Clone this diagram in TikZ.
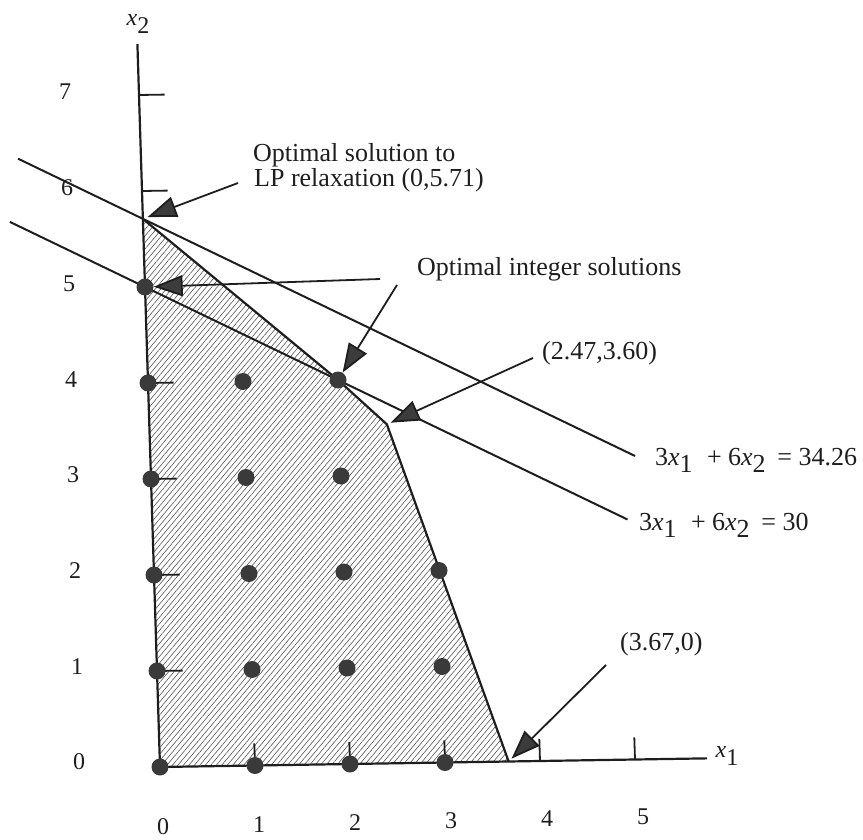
\documentclass[tikz,border=0pt]{standalone}
\usepackage{fontspec}
\setmainfont{Liberation Serif}
\usetikzlibrary{arrows.meta,patterns.meta}
\newcommand\sbx[1]{\raisebox{-0.3em}{#1}}
\newcommand\vx{\textit{x}}
\definecolor{ink}{HTML}{1E1E1E}
\definecolor{dotc}{HTML}{3A3A3A}
\definecolor{headc}{HTML}{3C3C3C}
\definecolor{hatchc}{HTML}{555555}
\begin{document}
\begin{tikzpicture}[x=1pt,y=-1pt,
  ann/.style={font=\fontsize{26}{26}\selectfont, text=ink, inner sep=0pt},
  axnum/.style={font=\fontsize{24}{24}\selectfont, text=ink, inner sep=0pt},
  lattice/.style={circle, fill=dotc, inner sep=0pt, minimum size=17pt},
  pointer/.style={draw=ink, line width=1.8pt, -{Triangle[length=29pt,width=21pt,fill=headc]}},
  axisline/.style={draw=ink, line width=2.2pt},
  tickmark/.style={draw=ink, line width=1.8pt},
  objline/.style={draw=ink, line width=2pt},
  bound/.style={draw=ink, line width=2.2pt, line join=round},
]
\useasboundingbox (0,0) rectangle (863,840);

\begin{scope}[shift={(160,767)}, x={(95pt,1.5pt)}, y={(-3pt,96pt)}]
  \coordinate (O) at (0,0);
  \coordinate (vtop) at (0,5.71);
  \coordinate (vmid) at (2,4);
  \coordinate (vlp) at (2.5,3.53);
  \coordinate (vbot) at (3.67,0);
  \coordinate (yend) at (0,7.53);
  \coordinate (xend) at (5.76,0);
  \coordinate (oAl) at (-1.294,6.357);
  \coordinate (oAr) at (5.1,3.16);
  \coordinate (oBl) at (-1.4,5.7);
  \coordinate (oBr) at (5.0,2.5);
  \fill[pattern={Lines[angle=50,distance=4.2pt,line width=0.6pt]}, pattern color=hatchc]
    (O) -- (vtop) -- (vmid) -- (vlp) -- (vbot) -- cycle;
  \draw[axisline] (O) -- (yend);
  \draw[axisline] (O) -- (xend);
  \draw[objline] (oAl) -- (oAr);
  \draw[objline] (oBl) -- (oBr);
  \draw[bound] (vtop) -- (vmid) -- (vlp) -- (vbot);
  \foreach \k in {1,2,3,4,6,7} \draw[tickmark] (0,\k) -- ++(0.27,0);
  \foreach \k in {1,...,5} \draw[tickmark] (\k,0) -- ++(0,0.23);
  \foreach \i/\j in {0/0,1/0,2/0,3/0,0/1,1/1,2/1,3/1,0/2,1/2,2/2,3/2,0/3,1/3,2/3,0/4,1/4,2/4,0/5}
    \node[lattice] (d\i\j) at (\i,\j) {};
\end{scope}

\foreach \k in {0,...,7} \node[axnum] (ylab\k) at ({79-2*\k},{762-95.7*\k}) {\k};
\foreach \k in {0,...,5} \node[axnum] (xlab\k) at ({163+96*\k},{827-2*\k}) {\k};
\node[axnum] (xtwo) at (138,24) {\vx\sbx{2}};
\node[axnum] (xone) at (727,756) {\vx\sbx{1}};

\node[ann, anchor=base west] (optA) at (253,162) {Optimal solution to};
\node[ann, anchor=base west] (optB) at (254,187) {LP relaxation (0,5.71)};
\node[ann, anchor=base west] (intT) at (417,276) {Optimal integer solutions};
\node[ann, anchor=base west] (lpT) at (542,359) {(2.47,3.60)};
\node[ann, anchor=base west] (botT) at (620,650) {(3.67,0)};
\node[ann, anchor=base west] (objA) at (655,465) {3\vx\sbx{1}\hspace{0.55em}+ 6\vx\sbx{2}\hspace{0.45em}= 34.26};
\node[ann, anchor=base west] (objB) at (639,530) {3\vx\sbx{1}\hspace{0.55em}+ 6\vx\sbx{2}\hspace{0.45em}= 30};

\coordinate (a1s) at (238,183);
\coordinate (a2s) at (380,279);
\coordinate (a3s) at (397,285);
\coordinate (a4s) at (533,358);
\coordinate (a5s) at (606,665);
\draw[pointer, shorten >=5pt] (a1s) -- (vtop);
\draw[pointer] (a2s) -- (d05);
\draw[pointer] (a3s) -- (d24);
\draw[pointer, shorten >=4pt] (a4s) -- (vlp);
\draw[pointer, shorten >=4pt] (a5s) -- (vbot);
\end{tikzpicture}
\end{document}
